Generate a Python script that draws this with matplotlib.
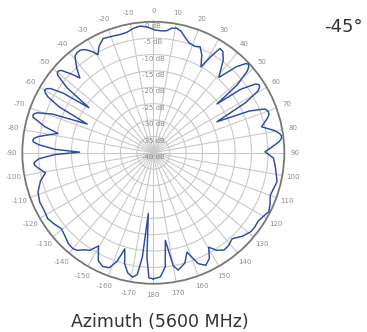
"""Azimuth radiation pattern at 5600 MHz, -45 degree element."""

import matplotlib

matplotlib.use("Agg")
import matplotlib.pyplot as plt
import numpy as np

# pattern samples: azimuth in degrees (clockwise from north), gain in dB
azimuth_deg = [
    -180, -178, -176.5, -175.3, -174, -172.5, -170.5, -168, -165.5, -163.5,
    -161.5, -159, -156, -153, -149.5, -147, -144.5, -142, -140, -137,
    -133, -129.6, -126, -122, -118, -113.5, -108.8, -104, -100.5, -97.5,
    -96, -95.3, -94.5, -93, -91, -89.5, -88, -86, -84.8, -84,
    -83, -82, -80, -78.5, -76.5, -74, -73.5, -72.5, -71.8, -71,
    -69, -66.5, -64, -62, -61, -60, -59, -58, -56.5, -55,
    -53, -51, -50.3, -49.5, -48.8, -48, -46, -44.5, -42, -39,
    -37.5, -36, -34.5, -33, -31, -29.4, -27, -23.7, -19, -15.5,
    -12.5, -9, -6, -3, 0.8, 4, 6.3, 8.5, 10.7, 13,
    15.5, 18, 21.5, 23.8, 26.4, 29, 31, 32.6, 34.5, 37,
    41, 44, 46, 47, 48, 49, 51, 52.5, 54, 56,
    56.8, 57.5, 58.5, 59.5, 61.5, 64, 66.5, 68.5, 69.5, 70.5,
    71.7, 73, 76.5, 79.5, 81.3, 82.5, 83.8, 85, 87.5, 89.5,
    92.5, 96, 103, 110, 114, 117, 120, 123, 126, 129,
    133, 137.5, 141, 144, 147, 149.6, 152, 155, 158, 161.3,
    164, 168, 170, 172.2, 174, 176.8, 180,
]
gain_db = [
    -1.5, -1.8, -8, -21.4, -8, -2.5, -1.5, -2.5, -5, -9.4,
    -5, -2.4, -2, -3, -7, -4.5, -3.6, -2.2, -1.8, -2,
    -3, -3.6, -2.8, -2.0, -2.3, -2.2, -2.8, -4.5, -6.5, -4.5,
    -3.6, -3.4, -3.7, -5, -10, -17.5, -10, -5, -3.2, -3,
    -3.4, -4.5, -8, -10.3, -6, -2.5, -1.7, -1.5, -1.8, -2.5,
    -7, -18, -8, -3.5, -2.3, -1.7, -2.0, -3, -7, -16,
    -7, -2.5, -1.9, -1.7, -1.9, -2.5, -5.5, -8, -5, -2,
    -1.6, -1.5, -1.8, -2.5, -4, -5.6, -3.5, -1.9, -2.3, -2.5,
    -2.35, -1.5, -1.1, -1.5, -2.5, -2.7, -2.5, -1.5, -1.3, -2,
    -3.5, -4.7, -5.1, -4.6, -6.7, -10, -5.5, -2.2, -2.5, -4.5,
    -9.5, -3.5, -0.8, -0.3, -0.8, -2, -7, -15.5, -7, -2.5,
    -1.8, -1.6, -2.0, -3, -8, -18.4, -8, -3.5, -2.9, -2.7,
    -2.8, -3.5, -6, -2.5, -1.0, -0.5, -0.7, -1.5, -4, -5.9,
    -3.3, -2.6, -1.2, -2, -1, -0.4, -1.2, -1.8, -1.6, -1.7,
    -2.7, -4.4, -3.5, -3.3, -4.5, -6.6, -3.5, -2.1, -3.5, -8,
    -5, -3.4, -5, -13, -5, -2, -1.5,
]

ring_db = [0, -5, -10, -15, -20, -25, -30, -35, -40]
spoke_deg = list(range(0, 360, 10))
spoke_labels = [str(a) if a <= 180 else str(a - 360) for a in spoke_deg]

R_MIN, R_MAX = -40, 0
GRID = "#c9c9c9"
LABEL = "#8c8c8c"


def main() -> None:
    fig = plt.figure(figsize=(3.67, 3.32), dpi=100)
    ax = fig.add_axes([0.0608, 0.1452, 0.7139, 0.7892], projection="polar")
    ax.set_theta_zero_location("N")
    ax.set_theta_direction(-1)
    ax.set_ylim(R_MIN, R_MAX)

    ax.set_xticks(np.deg2rad(spoke_deg))
    ax.set_xticklabels([])
    ax.set_yticks(ring_db[1:-1])
    ax.set_yticklabels([])
    ax.grid(True, color=GRID, linewidth=0.8)
    ax.spines["polar"].set_color("#777777")
    ax.spines["polar"].set_linewidth(1.3)

    theta = np.deg2rad(azimuth_deg)
    ax.plot(theta, gain_db, color="#2b4aa8", linewidth=1.05, zorder=5)

    # angle labels just outside the rim
    r_lab = R_MIN + (R_MAX - R_MIN) * 142 / 131
    for a, s in zip(spoke_deg, spoke_labels):
        ax.text(np.deg2rad(a), r_lab, s, fontsize=5, color=LABEL,
                ha="center", va="center", clip_on=False)

    # ring labels along the 0 degree spoke
    for r in ring_db:
        ax.annotate(f"{r} dB", xy=(0, r), xytext=(0, -3),
                    textcoords="offset points", fontsize=5, color=LABEL,
                    ha="center", va="center", zorder=4)

    fig.text(0.935, 0.92, "-45°", fontsize=13, color="#333333",
             ha="center", va="center")
    fig.text(0.436, 0.03, "Azimuth (5600 MHz)", fontsize=12.5,
             color="#333333", ha="center", va="center")

    fig.savefig("out.png", dpi=100)


if __name__ == "__main__":
    main()
